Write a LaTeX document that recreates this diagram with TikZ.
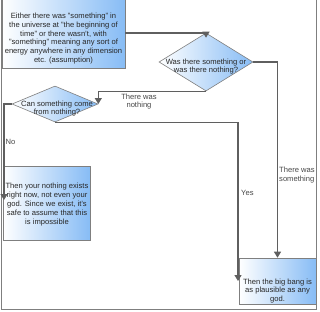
\documentclass[tikz,border=0pt]{standalone}
\usepackage{fontspec}
\setmainfont{Liberation Sans}
\usetikzlibrary{shapes.geometric,arrows.meta}
\definecolor{boxblue}{RGB}{135,188,245}
\definecolor{edgegray}{RGB}{95,95,95}
\definecolor{txt}{RGB}{40,40,40}
\begin{document}
\begin{tikzpicture}[x=1pt,y=-1pt,
 box/.style={draw=edgegray!80, line width=0.6pt, left color=white, right color=boxblue, inner sep=0pt},
 dia/.style={diamond, draw=edgegray!80, line width=0.6pt, left color=white, right color=boxblue, inner sep=0pt},
 txtnode/.style={align=center, text=txt, font=\fontsize{7.6}{8.8}\selectfont, inner sep=0pt},
 lbl/.style={align=center, text=txt!85, font=\fontsize{7.6}{8.8}\selectfont, inner sep=0pt},
 conn/.style={draw=edgegray, line width=1.2pt, -{Triangle[length=6pt,width=7pt]}}]
\useasboundingbox (0,0) rectangle (320,311);
\fill[white] (0,0) rectangle (320,311);
\draw[edgegray!80, line width=0.8pt] (1,-5) -- (1,309) -- (316,309) -- (316,-5);

\node[box, minimum width=123pt, minimum height=70pt] (tb) at (63.5,33) {};
\node[txtnode] at (63.5,38.5) {Either there was "something" in\\the universe at "the beginning of\\time" or there wasn't, with\\"something" meaning any sort of\\energy anywhere in any dimension\\etc. (assumption)};

\node[dia, minimum width=94pt, minimum height=58pt] (d1) at (206,62) {};
\node[txtnode] at (206,66.5) {Was there something or\\was there nothing?};

\node[dia, minimum width=86pt, minimum height=36pt] (d2) at (55,104) {};
\node[txtnode] at (57,108.5) {Can something come\\from nothing?};

\node[box, minimum width=87pt, minimum height=74pt] (nb) at (46.5,203) {};
\node[txtnode] at (47,204.5) {Then your nothing exists\\right now, not even your\\god. Since we exist, it's\\safe to assume that this\\is impossible};

\node[box, minimum width=77pt, minimum height=46pt] (bb) at (277.5,281) {};
\node[txtnode] at (277.5,291) {Then the big bang is\\as plausible as any\\god.};

\coordinate (yesend) at (238,281);
\coordinate (noend) at (4,200);

\draw[conn] (tb.east) -| ([yshift=-5pt]d1.north);
\draw[conn] (d1.east) -| (bb.north);
\node[lbl, anchor=west, align=left] at (279,175) {There was\\something};
\draw[conn] (d1.south) -| (d2.east);
\node[lbl] at (139,101.5) {There was\\nothing};
\draw[conn] (d2.south) -| (yesend);
\node[lbl, anchor=west] at (241,193) {Yes};
\draw[conn] (d2.west) -| (noend);
\node[lbl, anchor=west] at (5.5,142) {No};
\end{tikzpicture}
\end{document}
